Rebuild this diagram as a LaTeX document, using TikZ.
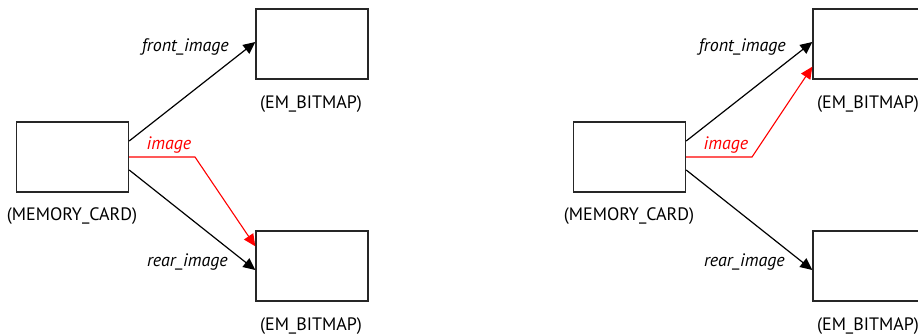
\documentclass[tikz,border=0pt]{standalone}
\usepackage{fontspec}
\setmainfont{PT Sans}
\usetikzlibrary{arrows.meta}
\definecolor{linkred}{RGB}{255,0,0}
\begin{document}
\begin{tikzpicture}[x=1pt,y=-1pt,
  objbox/.style={draw=black!85,line width=1.4pt,minimum width=112pt,minimum height=70pt,inner sep=0pt},
  caption/.style={font=\fontsize{18}{21}\selectfont,inner sep=0pt},
  rolename/.style={font=\fontsize{18}{21}\selectfont\itshape,inner sep=0pt,anchor=east},
  ref/.style={line width=1.2pt,-{Triangle[length=12pt,width=11pt]}},
  redref/.style={ref,draw=linkred,line width=1.1pt}]
\useasboundingbox (0,0) rectangle (918,336);
\clip (0,0) rectangle (918,336);

% Left: card refers to the rear bitmap through "image"
\node[objbox] (Lmc) at (72.5,157) {};
\node[objbox] (Ltb) at (312,44) {};
\node[objbox] (Lbb) at (312,266) {};
\node[caption] (Lmct) at (72,216) {(MEMORY\_CARD)};
\node[caption] (Ltbt) at (311,104) {(EM\_BITMAP)};
\node[caption] (Lbbt) at (311,326) {(EM\_BITMAP)};
\draw[ref] ([yshift=16pt]Lmc.east) -- ([yshift=2pt]Ltb.west);
\draw[ref] ([yshift=-13pt]Lmc.east) -- ([yshift=-4pt]Lbb.west);
\node[rolename] (Lfl) at (229,47) {front\_image};
\node[rolename] (Lrl) at (228,262) {rear\_image};
\coordinate (Lbend) at (195,157);
\draw[redref] (Lmc.east) -- (Lbend) -- ([yshift=-16pt]Lbb.north west);
\node[rolename,text=linkred,anchor=center] (Lil) at (169,145) {image};

% Right: card refers to the front bitmap through "image"
\begin{scope}[xshift=557pt]
\node[objbox] (Rmc) at (72.5,157) {};
\node[objbox] (Rtb) at (312,44) {};
\node[objbox] (Rbb) at (312,266) {};
\node[caption] (Rmct) at (72,216) {(MEMORY\_CARD)};
\node[caption] (Rtbt) at (311,104) {(EM\_BITMAP)};
\node[caption] (Rbbt) at (311,326) {(EM\_BITMAP)};
\draw[ref] ([yshift=16pt]Rmc.east) -- ([yshift=2pt]Rtb.west);
\draw[ref] ([yshift=-13pt]Rmc.east) -- ([yshift=-4pt]Rbb.west);
\node[rolename] (Rfl) at (229,47) {front\_image};
\node[rolename] (Rrl) at (228,262) {rear\_image};
\coordinate (Rbend) at (195,157);
\draw[redref] (Rmc.east) -- (Rbend) -- ([yshift=13pt]Rtb.south west);
\node[rolename,text=linkred,anchor=center] (Ril) at (169,145) {image};
\end{scope}
\end{tikzpicture}
\end{document}
